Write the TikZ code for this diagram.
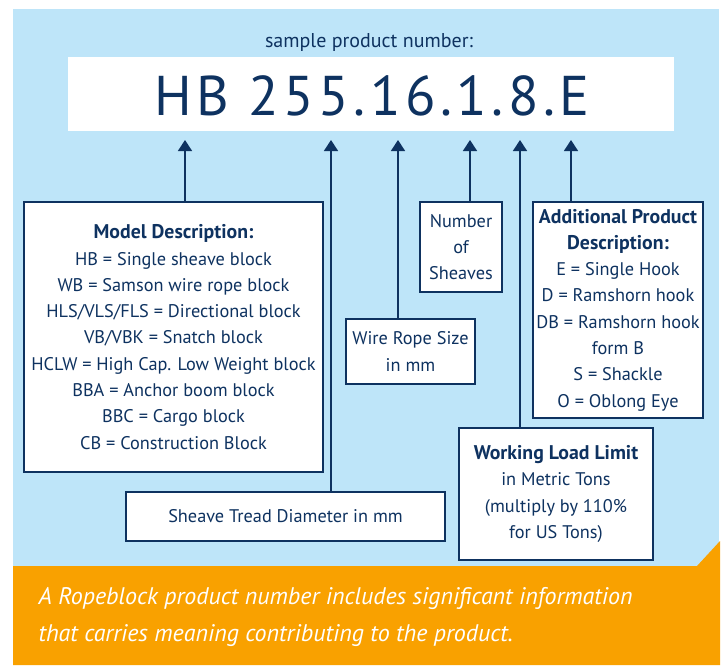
\documentclass[tikz,border=0pt]{standalone}
\usepackage{fontspec}
\setmainfont{PT Sans}
\usetikzlibrary{arrows.meta,positioning}
\definecolor{skyfill}{RGB}{190,229,249}
\definecolor{navyink}{RGB}{14,50,96}
\definecolor{bannerorange}{RGB}{249,161,0}
\newcommand{\boxhead}[1]{{\fontsize{19.8}{26.3}\selectfont\bfseries #1}}
\tikzset{
	infobox/.style={rectangle, draw=navyink, line width=1.3pt, fill=white, align=center,
		text=navyink, inner sep=0pt, font=\fontsize{18.3}{26.3}\selectfont},
	ptr/.style={-{Triangle[width=14pt,length=11pt]}, line width=1.4pt, draw=navyink}
}

\begin{document}
\begin{tikzpicture}[x=1pt,y=-1pt]
	\useasboundingbox (0,0) rectangle (722,665);
	\fill[skyfill] (13,9) rectangle (719,566);
	\fill[bannerorange] (13,566) -- (697,566) -- (720,541) -- (720,665) -- (13,665) -- cycle;
	% product number
	\node[text=navyink, font=\fontsize{20}{22}\selectfont] (hdr) at (369,42) {sample product number:};
	\node[fill=white, minimum width=606pt, minimum height=74pt] (numbox) at (371,94) {};
	\node[text=navyink, font=\fontsize{56}{60}\selectfont\addfontfeature{LetterSpace=8}] (num) at (372,96) {HB 255.16.1.8.E};
	\coordinate (tHB) at (185,140);
	\coordinate (tTD) at (331,140);
	\coordinate (tWR) at (398,140);
	\coordinate (tNS) at (470,140);
	\coordinate (tWL) at (520,140);
	\coordinate (tAD) at (571,140);
	% boxes
	\node[infobox, minimum width=299pt, minimum height=270pt] (mdl) at (173.5,337) {\boxhead{Model Description:}\\HB = Single sheave block\\WB = Samson wire rope block\\HLS/VLS/FLS = Directional block\\VB/VBK = Snatch block\\HCLW = High Cap. Low Weight block\\BBA = Anchor boom block\\BBC = Cargo block\\CB = Construction Block};
	\node[infobox, minimum width=319pt, minimum height=49pt] (tread) at (285.5,516.5) {Sheave Tread Diameter in mm};
	\node[infobox, minimum width=129pt, minimum height=65pt] (wire) at (410.5,351.5) {Wire Rope Size\\in mm};
	\node[infobox, minimum width=82pt, minimum height=90pt] (nsh) at (461,247) {Number\\of\\Sheaves};
	\node[infobox, minimum width=194pt, minimum height=132pt] (wll) at (556,494) {\boxhead{Working Load Limit}\\in Metric Tons\\(multiply by 110\%\\for US Tons)};
	\node[infobox, minimum width=170pt, minimum height=216pt] (addl) at (618,310) {\boxhead{Additional Product}\\\boxhead{Description:}\\E = Single Hook\\D = Ramshorn hook\\DB = Ramshorn hook\\form B\\S = Shackle\\O = Oblong Eye};
	% pointers
	\draw[ptr] (mdl.north -| tHB) -- (tHB);
	\draw[ptr] (tread.north -| tTD) -- (tTD);
	\draw[ptr] (wire.north -| tWR) -- (tWR);
	\draw[ptr] (nsh.north -| tNS) -- (tNS);
	\draw[ptr] (wll.north -| tWL) -- (tWL);
	\draw[ptr] (addl.north -| tAD) -- (tAD);
	% banner
	\node[anchor=west, text=white, align=left, font=\fontsize{24}{37}\selectfont\itshape] (note) at (35,617) {A Ropeblock product number includes significant information\\that carries meaning contributing to the product.};
\end{tikzpicture}
\end{document}
